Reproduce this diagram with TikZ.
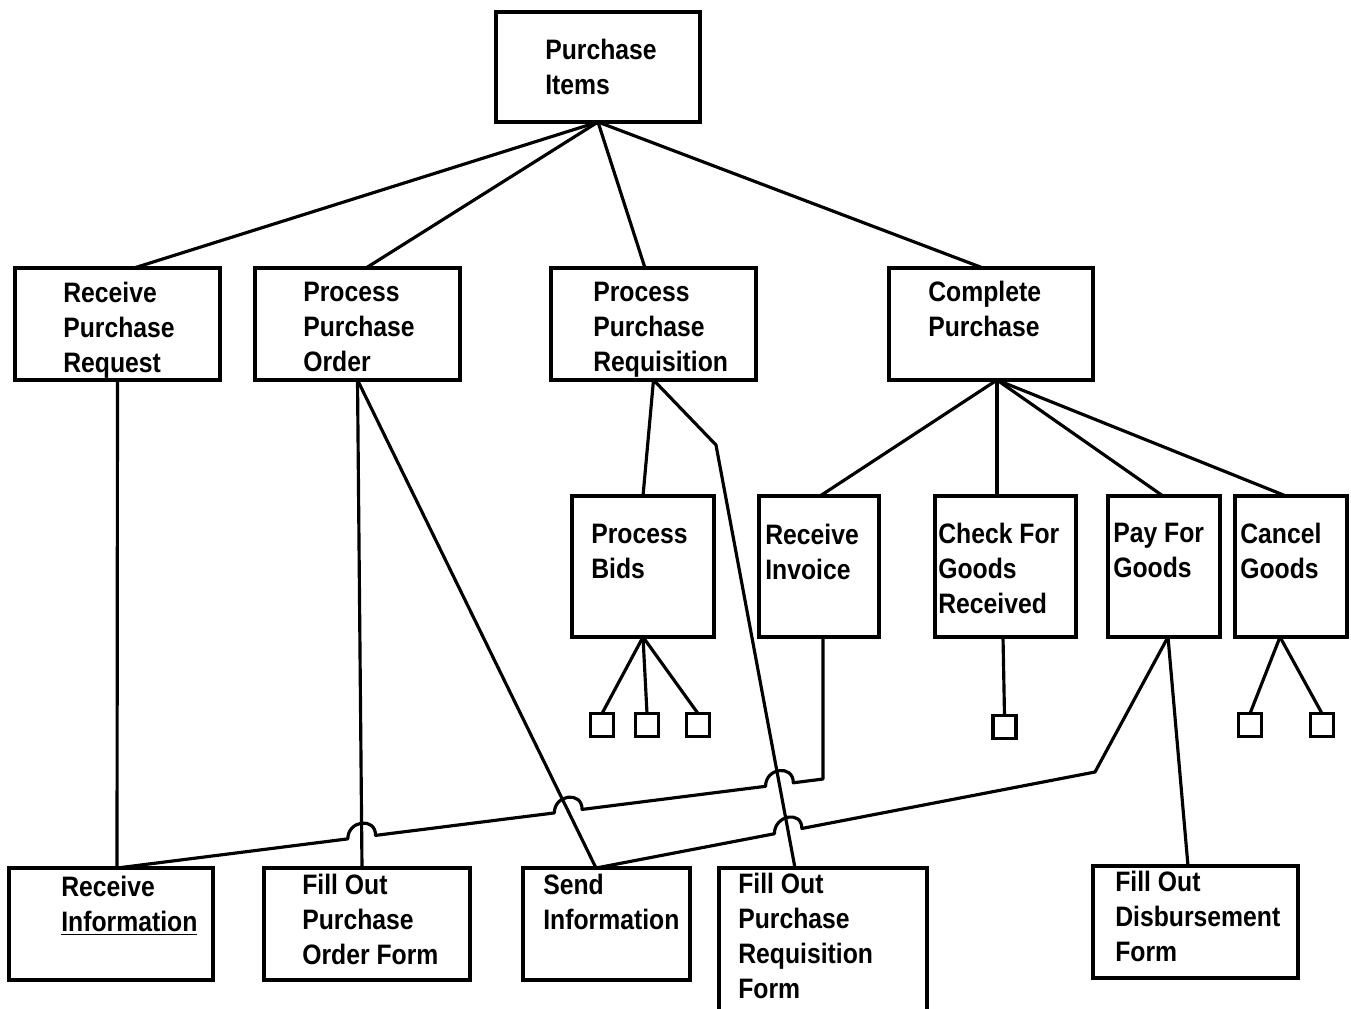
\documentclass[tikz,border=0pt]{standalone}
\usepackage{fontspec}
\setmainfont[FakeStretch=0.88]{Liberation Sans}
\usetikzlibrary{calc}
\begin{document}
\begin{tikzpicture}[x=0.02cm,y=-0.02cm,
  box/.style={draw, line width=1.8pt, inner sep=0pt, outer sep=0pt},
  sqbox/.style={draw, line width=1.8pt, minimum size=0.46cm, inner sep=0pt, outer sep=0pt},
  txt/.style={anchor=north west, inner sep=0pt, align=left, font=\fontsize{16}{19.9}\selectfont\bfseries},
  conn/.style={line width=1.8pt, line join=round},
  hopover/.style={out=90, in=90, looseness=1.7}]
\useasboundingbox (0,0) rectangle (1351,1008);

% ---- boxes ----
\node[box, minimum width=4.08cm, minimum height=2.2cm]  (pi)   at (598,67) {};
\node[box, minimum width=4.1cm,  minimum height=2.24cm] (rpr)  at (117.5,324) {};
\node[box, minimum width=4.1cm,  minimum height=2.24cm] (ppo)  at (357.5,324) {};
\node[box, minimum width=4.1cm,  minimum height=2.24cm] (ppr)  at (653.5,324) {};
\node[box, minimum width=4.08cm, minimum height=2.24cm] (cp)   at (991,324) {};
\node[box, minimum width=2.84cm, minimum height=2.82cm] (pb)   at (643,566.5) {};
\node[box, minimum width=2.4cm,  minimum height=2.82cm] (rinv) at (819,566.5) {};
\node[box, minimum width=2.82cm, minimum height=2.82cm] (cfg)  at (1005.5,566.5) {};
\node[box, minimum width=2.24cm, minimum height=2.82cm] (pfg)  at (1164,566.5) {};
\node[box, minimum width=2.24cm, minimum height=2.82cm] (cg)   at (1291,566.5) {};
\node[box, minimum width=4.08cm, minimum height=2.24cm] (rinfo) at (111,924) {};
\node[box, minimum width=4.12cm, minimum height=2.24cm] (fopo) at (367,924) {};
\node[box, minimum width=3.34cm, minimum height=2.24cm] (si)   at (606.5,924) {};
\node[box, minimum width=4.16cm, minimum height=3.24cm] (fopr) at (823,949) {};
\node[box, minimum width=4.1cm,  minimum height=2.24cm] (fodf) at (1195.5,922) {};

% ---- small squares ----
\node[sqbox] (sq1) at (602,725) {};
\node[sqbox] (sq2) at (647,725) {};
\node[sqbox] (sq3) at (698,725) {};
\node[sqbox] (sq4) at (1004.5,727) {};
\node[sqbox] (sq5) at (1250,725) {};
\node[sqbox] (sq6) at (1322,725) {};

% ---- texts ----
\node[txt] (tpi)   at (545,39)   {Purchase\\Items};
\node[txt] (trpr)  at (63,282)   {Receive\\Purchase\\Request};
\node[txt] (tppo)  at (303,282)  {Process\\Purchase\\Order};
\node[txt] (tppr)  at (593,282)  {Process\\Purchase\\Requisition};
\node[txt] (tcp)   at (928,281)  {Complete\\Purchase};
\node[txt] (tpb)   at (591,524)  {Process\\Bids};
\node[txt] (trinv) at (765,524)  {Receive\\Invoice};
\node[txt] (tcfg)  at (938,523)  {Check For\\Goods\\Received};
\node[txt] (tpfg)  at (1113,523) {Pay For\\Goods};
\node[txt] (tcg)   at (1240,523) {Cancel\\Goods};
\node[txt] (trinfo) at (61,876)  {Receive\\\underline{Information}};
\node[txt] (tfopo) at (302,874)  {Fill Out\\Purchase\\Order Form};
\node[txt] (tsi)   at (543,874)  {Send\\Information};
\node[txt] (tfopr) at (738,873)  {Fill Out\\Purchase\\Requisition\\Form};
\node[txt] (tfodf) at (1115,871) {Fill Out\\Disbursement\\Form};

% ---- connector end points ----
\coordinate (ppoB)  at (ppo.south);
\coordinate (fopoT) at ($(fopo.north)+(-5,0)$);
\coordinate (siT)   at ($(si.north)+(-10.5,0)$);
\coordinate (pprB)  at (ppr.south);
\coordinate (kr)    at (716,445);
\coordinate (foprT) at ($(fopr.north)+(-28,0)$);
\coordinate (rinvB) at ($(rinv.south)+(4,0)$);
\coordinate (k1)    at (823,779);
\coordinate (rinfoT) at ($(rinfo.north)+(6,0)$);
\coordinate (pfgB)  at ($(pfg.south)+(4,0)$);
\coordinate (k2)    at (1095,772);
\coordinate (cpB)   at ($(cp.south)+(6,0)$);

\coordinate (Xa) at (intersection of k1--rinfoT and kr--foprT);
\coordinate (Xb) at (intersection of k1--rinfoT and ppoB--siT);
\coordinate (Xc) at (intersection of k1--rinfoT and ppoB--fopoT);
\coordinate (Xd) at (intersection of k2--siT and kr--foprT);

% ---- top level ----
\draw[conn] (pi.south) -- ($(rpr.north)+(16.5,0)$);
\draw[conn] (pi.south) -- ($(ppo.north)+(8.5,0)$);
\draw[conn] (pi.south) -- ($(ppr.north)+(-8.5,0)$);
\draw[conn] (pi.south) -- ($(cp.north)+(-8,0)$);

% ---- complete purchase ----
\draw[conn] (cpB) -- ($(rinv.north)+(1,0)$);
\draw[conn] (cpB) -- ($(cfg.north)+(-8.5,0)$);
\draw[conn] (cpB) -- ($(pfg.north)+(-1,0)$);
\draw[conn] (cpB) -- ($(cg.north)+(-5,0)$);

% ---- process purchase requisition ----
\draw[conn] (pprB) -- (pb.north);
\draw[conn] (pprB) -- (kr) -- (foprT);

% ---- process bids / check / cancel squares ----
\draw[conn] (pb.south) -- (sq1.north);
\draw[conn] (pb.south) -- (sq2.north);
\draw[conn] (pb.south) -- (sq3.north);
\draw[conn] ($(cfg.south)+(-2.5,0)$) -- (sq4.north);
\draw[conn] ($(cg.south)+(-11,0)$) -- (sq5.north);
\draw[conn] ($(cg.south)+(-11,0)$) -- (sq6.north);

% ---- verticals / diagonals to bottom row ----
\draw[conn] (rpr.south) -- (rinfoT);
\draw[conn] (ppoB) -- (fopoT);
\draw[conn] (ppoB) -- (siT);
\draw[conn] (pfgB) -- ($(fodf.north)+(-7.5,0)$);

% ---- lines with hops ----
\draw[conn] (rinvB) -- (k1)
  -- ($(Xa)!0.28cm!(k1)$) to[hopover] ($(Xa)!0.28cm!(rinfoT)$)
  -- ($(Xb)!0.28cm!(k1)$) to[hopover] ($(Xb)!0.28cm!(rinfoT)$)
  -- ($(Xc)!0.28cm!(k1)$) to[hopover] ($(Xc)!0.28cm!(rinfoT)$)
  -- (rinfoT);
\draw[conn] (pfgB) -- (k2)
  -- ($(Xd)!0.28cm!(k2)$) to[hopover] ($(Xd)!0.28cm!(siT)$)
  -- (siT);
\end{tikzpicture}
\end{document}
